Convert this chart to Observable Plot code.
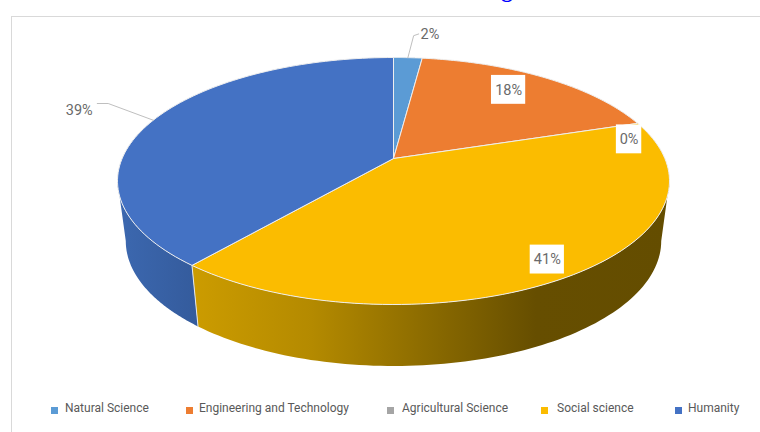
<!DOCTYPE html>
<html>
<head>
<meta charset="utf-8">
<script src="https://cdn.jsdelivr.net/npm/d3@7"></script>
<script src="https://cdn.jsdelivr.net/npm/@observablehq/plot@0.6"></script>
<style>
  html, body { margin: 0; padding: 0; background: #fff; overflow: hidden; }
  #page { position: relative; width: 760px; height: 432px; overflow: hidden; }
  #heading { position: absolute; right: 217px; top: -24px; font: bold 23px "Liberation Serif", serif; color: #0000ff; white-space: nowrap; line-height: 28px; }
  #frame { position: absolute; left: 11px; top: 16px; width: 760px; height: 440px; border: 1.5px solid #d9d9d9; box-sizing: border-box; }
  #chart { position: absolute; left: 0; top: 0; }
  #chart svg { display: block; background: transparent !important; }
  .key { position: absolute; top: 402px; font: 12px Roboto, "Liberation Sans", sans-serif; color: #595959; line-height: 13px; white-space: nowrap; }
  .key i { position: absolute; top: 5px; width: 7px; height: 7px; }
</style>
</head>
<body>
<div id="page">
  <div id="heading">Students Graduated with Doctoral Degree</div>
  <div id="frame"></div>
  <div id="chart"></div>
</div>
<script>
const fields = ["Natural Science", "Engineering and Technology", "Agricultural Science", "Social science", "Humanity"];
const shares = [2, 18, 0, 41, 39];
const colors = ["#5b9bd5", "#ed7d31", "#a5a5a5", "#fbbc00", "#4472c4"];
const shareLabels = ["2%", "18%", "0%", "41%", "39%"];

// Tilted-pie geometry, in units of the top ellipse's radii.
const tilt = 0.83;            // foreshortening of the far side of the pie
const apexY = 0.182;          // the pie's centre sits above the ellipse's centre
const lower = {rx: 0.97, ry: 1.012, cy: -0.486};
const deg = Math.PI / 180;

const cum = d3.cumsum(shares);
const toAngle = (pct) => {
  const a = (pct / 100) * 2 * Math.PI;
  if (pct >= 100) return 2 * Math.PI;
  let t = 2 * Math.atan(tilt * Math.tan(a / 2));
  return t < 0 ? t + 2 * Math.PI : t;
};
const rim = (t) => [Math.sin(t), Math.cos(t)];
const low = (t) => [lower.rx * Math.sin(t), lower.cy + lower.ry * Math.cos(t)];

const slicePts = [];
fields.forEach((name, i) => {
  const a0 = i ? cum[i - 1] : 0, a1 = cum[i];
  if (a1 === a0) return;
  const ring = [[0, apexY]];
  for (let k = 0; k <= 90; k++) ring.push(rim(toAngle(a0 + (a1 - a0) * k / 90)));
  ring.push([0, apexY]);
  ring.forEach(([x, y]) => slicePts.push({name, x, y}));
});

function sidePts(t0, t1) {
  const out = [];
  for (let k = 0; k <= 90; k++) { const [x, y] = rim(t0 + (t1 - t0) * k / 90); out.push({x, y}); }
  for (let k = 90; k >= 0; k--) { const [x, y] = low(t0 + (t1 - t0) * k / 90); out.push({x, y}); }
  out.push(out[0]);
  return out;
}
const seam = toAngle(cum[3]);
const sideGold = sidePts(90 * deg, seam);
const sideBlue = sidePts(seam, 270 * deg);

// Label anchors: fractions of the way from the apex to the rim at each slice's mid-angle.
const labelFx = [2.53, 0.76, 0.965, 0.855, 1.308];
const labelFy = [1.228, 0.85, 0.545, 0.87, 1.253];
const anchor = (i, fx, fy) => {
  const mid = (i ? cum[i - 1] : 0) + shares[i] / 2;
  const [rx, ry] = rim(toAngle(mid));
  return [rx * fx, apexY + (ry - apexY) * fy];
};
const labels = fields.map((name, i) => {
  const [x, y] = anchor(i, labelFx[i], labelFy[i]);
  return {x, y, text: shareLabels[i], i};
});
const boxed = labels.filter((d) => d.i >= 1 && d.i <= 3);
const boxW = [0, 0.062, 0.046, 0.062], boxH = [0, 0.117, 0.117, 0.117];

const leaders = [
  {k: 0, p: [[1, 1], [1.4, 1.218], [1.75, 1.235]].map(([a, b]) => anchor(0, a, b))},
  {k: 4, p: [[1, 1], [1.1875, 1.436], [1.233, 1.436]].map(([a, b]) => anchor(4, a, b))}
].flatMap((l) => l.p.map(([x, y]) => ({k: l.k, x, y})));

const gradient = (id, stops) => () => {
  const g = d3.create("svg:linearGradient").attr("id", id);
  stops.forEach(([o, c]) => g.append("stop").attr("offset", o).attr("stop-color", c));
  return g.node();
};

const plot = Plot.plot({
  width: 760,
  height: 400,
  margin: 0,
  x: {domain: [-1, 1], range: [117, 669], axis: null},
  y: {domain: [-1, 1], range: [304, 57], axis: null},
  color: {domain: fields, range: colors},
  style: {background: "transparent"},
  marks: [
    gradient("goldSide", [[0, "#cc9c00"], [0.25, "#b48a00"], [0.5, "#8a6a00"], [0.72, "#664e00"], [1, "#644d00"]]),
    gradient("blueSide", [[0, "#3c68b0"], [1, "#345b9c"]]),
    Plot.line(sideGold, {x: "x", y: "y", fill: "url(#goldSide)", stroke: "none", curve: "linear"}),
    Plot.line(sideBlue, {x: "x", y: "y", fill: "url(#blueSide)", stroke: "none", curve: "linear"}),
    Plot.line([{x: low(seam)[0], y: low(seam)[1]}, {x: rim(seam)[0], y: rim(seam)[1]}], {x: "x", y: "y", stroke: "#e8e8e8", strokeWidth: 1}),
    Plot.line(slicePts, {x: "x", y: "y", z: "name", fill: "name", stroke: "#eeeeee", strokeWidth: 1, curve: "linear"}),
    Plot.line(leaders, {x: "x", y: "y", z: "k", stroke: "#bfbfbf", strokeWidth: 1, curve: "linear"}),
    Plot.rect(boxed, {
      x1: (d) => d.x - boxW[d.i], x2: (d) => d.x + boxW[d.i],
      y1: (d) => d.y - boxH[d.i], y2: (d) => d.y + boxH[d.i],
      fill: "#fff", inset: 0
    }),
    Plot.text(labels, {x: "x", y: "y", text: "text", fill: "#6a6a6a", fontSize: 14.5, fontFamily: "Roboto, 'Liberation Sans', sans-serif"})
  ]
});
document.getElementById("chart").append(plot);

const keyX = [51, 186, 387, 541, 675];
const page = document.getElementById("page");
fields.forEach((name, i) => {
  const d = document.createElement("div");
  d.className = "key";
  d.style.left = keyX[i] + "px";
  d.style.paddingLeft = (i === 2 ? 15 : i === 3 ? 16 : i === 0 ? 14 : 13) + "px";
  d.textContent = name;
  const sw = document.createElement("i");
  sw.style.left = "0";
  sw.style.background = colors[i];
  d.prepend(sw);
  page.append(d);
});
</script>
</body>
</html>
